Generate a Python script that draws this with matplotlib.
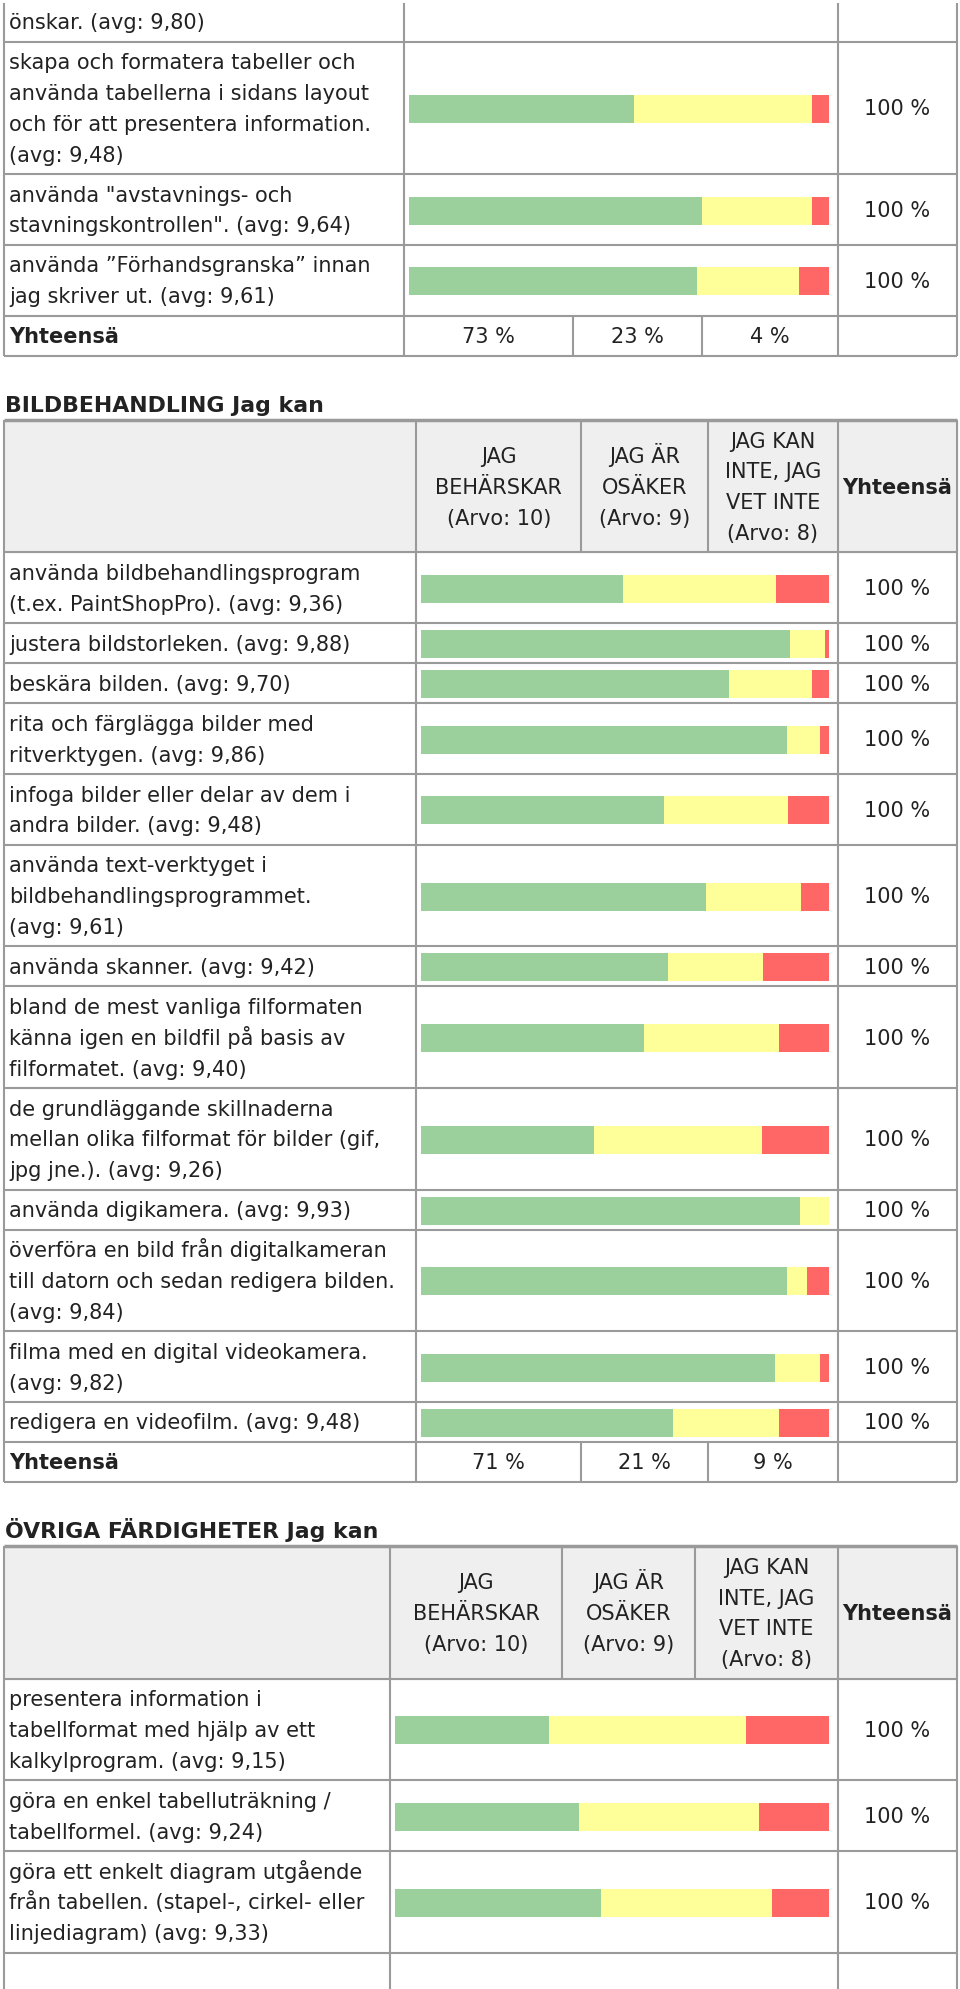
import matplotlib.pyplot as plt
from matplotlib.patches import Rectangle

sec1_partial = "önskar. (avg: 9,80)"
sec1_labels = [
    "skapa och formatera tabeller och\nanvända tabellerna i sidans layout\noch för att presentera information.\n(avg: 9,48)",
    "använda \"avstavnings- och\nstavningskontrollen\". (avg: 9,64)",
    "använda ”Förhandsgranska” innan\njag skriver ut. (avg: 9,61)",
]
sec1_green = [53.6, 69.8, 68.7]
sec1_yellow = [42.4, 26.2, 24.2]
sec1_red = [4.0, 4.0, 7.1]
sec1_totals = ["73 %", "23 %", "4 %"]

sec2_title = "BILDBEHANDLING Jag kan"
sec2_labels = [
    "använda bildbehandlingsprogram\n(t.ex. PaintShopPro). (avg: 9,36)",
    "justera bildstorleken. (avg: 9,88)",
    "beskära bilden. (avg: 9,70)",
    "rita och färglägga bilder med\nritverktygen. (avg: 9,86)",
    "infoga bilder eller delar av dem i\nandra bilder. (avg: 9,48)",
    "använda text-verktyget i\nbildbehandlingsprogrammet.\n(avg: 9,61)",
    "använda skanner. (avg: 9,42)",
    "bland de mest vanliga filformaten\nkänna igen en bildfil på basis av\nfilformatet. (avg: 9,40)",
    "de grundläggande skillnaderna\nmellan olika filformat för bilder (gif,\njpg jne.). (avg: 9,26)",
    "använda digikamera. (avg: 9,93)",
    "överföra en bild från digitalkameran\ntill datorn och sedan redigera bilden.\n(avg: 9,84)",
    "filma med en digital videokamera.\n(avg: 9,82)",
    "redigera en videofilm. (avg: 9,48)",
]
sec2_green = [49.5, 90.5, 75.6, 89.8, 59.5, 69.8, 60.6, 54.6, 42.4, 93.0, 89.8, 86.8, 61.7]
sec2_yellow = [37.6, 8.5, 20.4, 8.1, 30.4, 23.3, 23.3, 33.3, 41.3, 7.0, 5.0, 11.1, 26.2]
sec2_red = [12.9, 1.0, 4.0, 2.1, 10.1, 6.9, 16.1, 12.1, 16.3, 0.0, 5.2, 2.1, 12.1]
sec2_totals = ["71 %", "21 %", "9 %"]

sec3_title = "ÖVRIGA FÄRDIGHETER Jag kan"
sec3_labels = [
    "presentera information i\ntabellformat med hjälp av ett\nkalkylprogram. (avg: 9,15)",
    "göra en enkel tabelluträkning /\ntabellformel. (avg: 9,24)",
    "göra ett enkelt diagram utgående\nfrån tabellen. (stapel-, cirkel- eller\nlinjediagram) (avg: 9,33)",
]
sec3_green = [35.4, 42.4, 47.5]
sec3_yellow = [45.4, 41.4, 39.4]
sec3_red = [19.2, 16.2, 13.1]

headers = ["JAG\nBEHÄRSKAR\n(Arvo: 10)", "JAG ÄR\nOSÄKER\n(Arvo: 9)",
           "JAG KAN\nINTE, JAG\nVET INTE\n(Arvo: 8)"]
total_word = "Yhteensä"
row_total = "100 %"

# ---- style ----
GREEN, YELLOW, RED = "#9bcf9b", "#ffff99", "#ff6666"
GRID, HEAD_BG, TXT = "#9a9a9a", "#efefef", "#222222"
FS = 15
FS_TITLE = 15.8
LS = 30.8       # line spacing in px
ROW1 = 40       # height of a one-line row
BAR_H = 28
BAR_END = 828.7
XL, XR, XTOT = 4, 957, 837.5

fig = plt.figure(figsize=(9.6, 19.89), dpi=100)
ax = fig.add_axes([0, 0, 1, 1])
ax.set_xlim(0, 960)
ax.set_ylim(1989, 0)
ax.axis("off")


def put(x, yc, text, ha="left", bold=False, size=FS):
    lines = text.split("\n")
    n = len(lines)
    for i, ln in enumerate(lines):
        y = yc + (i - (n - 1) / 2) * LS + 7.5
        ax.text(x, y, ln, ha=ha, va="baseline", fontsize=size, color=TXT,
                fontweight="bold" if bold else "normal")


def vlines(xs, y0, y1):
    ax.vlines(xs, y0, y1, colors=GRID, lw=1.5)


def hline(y, x0=XL, x1=XR, lw=1.5):
    ax.hlines(y, x0, x1, colors=GRID, lw=lw)


def header(top, xbar, xa, xb):
    h = ROW1 + 3 * LS
    ax.add_patch(Rectangle((XL, top), XR - XL, h, color=HEAD_BG, zorder=0))
    hline(top, lw=2.5)
    hline(top + h)
    vlines([XL, xbar, xa, xb, XTOT, XR], top, top + h)
    centers = [(xbar + xa) / 2, (xa + xb) / 2, (xb + XTOT) / 2]
    for c, t in zip(centers, headers):
        put(c, top + h / 2, t, ha="center")
    put((XTOT + XR) / 2, top + h / 2, total_word, ha="center", bold=True)
    return top + h


def body(top, xbar, labels, g, yl, r):
    y = top
    x0 = xbar + 5
    bw = BAR_END - x0
    for lab, a, b, c in zip(labels, g, yl, r):
        h = ROW1 + lab.count("\n") * LS
        yc = y + h / 2
        put(9, yc, lab)
        ax.barh(yc + 1, a / 100 * bw, left=x0, height=BAR_H, color=GREEN)
        ax.barh(yc + 1, b / 100 * bw, left=x0 + a / 100 * bw, height=BAR_H, color=YELLOW)
        ax.barh(yc + 1, c / 100 * bw, left=x0 + (a + b) / 100 * bw, height=BAR_H, color=RED)
        put((XTOT + XR) / 2, yc, row_total, ha="center")
        vlines([XL, xbar, XTOT, XR], y, y + h)
        hline(y + h)
        y += h
    return y


def total_row(top, xbar, xa, xb, totals):
    h = ROW1
    yc = top + h / 2
    put(9, yc, total_word, bold=True)
    for c, t in zip([(xbar + xa) / 2, (xa + xb) / 2, (xb + XTOT) / 2], totals):
        put(c, yc, t, ha="center")
    vlines([XL, xbar, xa, xb, XTOT, XR], top, top + h)
    hline(top + h)
    return top + h


# section 1 (continues from above the image)
X1 = (404, 572.5, 702)
put(9, 21, sec1_partial)
vlines([XL, X1[0], XTOT, XR], 3, 41.7)
hline(41.7)
y = body(41.7, X1[0], sec1_labels, sec1_green, sec1_yellow, sec1_red)
y = total_row(y, *X1, sec1_totals)

# section 2
X2 = (416, 581.4, 708)
put(5, y + 49, sec2_title, bold=True, size=FS_TITLE)
y = header(y + 64.3, *X2)
y = body(y, X2[0], sec2_labels, sec2_green, sec2_yellow, sec2_red)
y = total_row(y, *X2, sec2_totals)

# section 3
X3 = (390.4, 562.4, 695.2)
put(5, y + 49, sec3_title, bold=True, size=FS_TITLE)
y = header(y + 64.3, *X3)
y = body(y, X3[0], sec3_labels, sec3_green, sec3_yellow, sec3_red)
vlines([XL, X3[0], XTOT, XR], y, 1989)

fig.savefig("out.png", dpi=100, facecolor="white")
